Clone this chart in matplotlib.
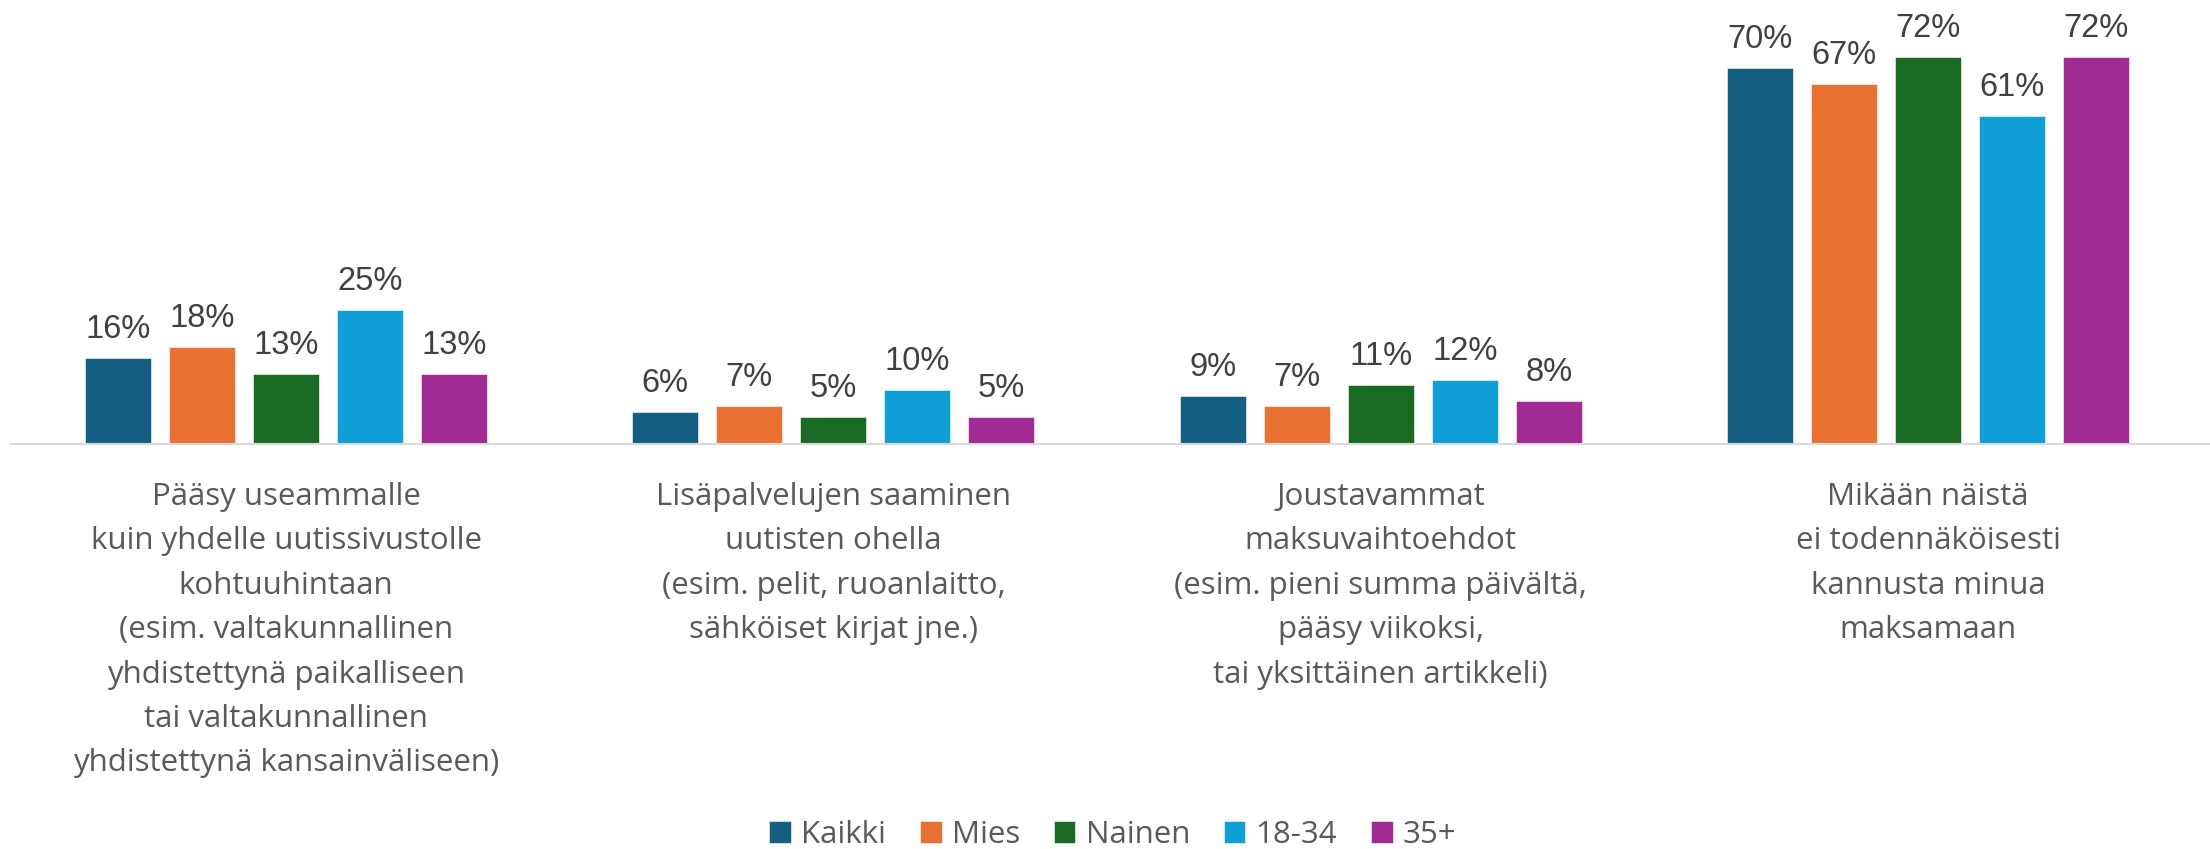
import matplotlib

matplotlib.use("Agg")
import matplotlib.pyplot as plt
import numpy as np
from matplotlib.transforms import blended_transform_factory

categories = [
    "Pääsy useammalle\nkuin yhdelle uutissivustolle\nkohtuuhintaan\n(esim. valtakunnallinen\n"
    "yhdistettynä paikalliseen\ntai valtakunnallinen\nyhdistettynä kansainväliseen)",
    "Lisäpalvelujen saaminen\nuutisten ohella\n(esim. pelit, ruoanlaitto,\nsähköiset kirjat jne.)",
    "Joustavammat\nmaksuvaihtoehdot\n(esim. pieni summa päivältä,\npääsy viikoksi,\ntai yksittäinen artikkeli)",
    "Mikään näistä\nei todennäköisesti\nkannusta minua\nmaksamaan",
]
series = ["Kaikki", "Mies", "Nainen", "18-34", "35+"]
kaikki = [16, 6, 9, 70]
mies = [18, 7, 7, 67]
nainen = [13, 5, 11, 72]
nuoret = [25, 10, 12, 61]
vanhat = [13, 5, 8, 72]
values = [kaikki, mies, nainen, nuoret, vanhat]
colors = ["#156082", "#E97132", "#196B24", "#0F9ED5", "#A02B93"]

W, H, DPI = 2210, 849, 100
LABEL_FONT = "Open Sans"

fig = plt.figure(figsize=(W / DPI, H / DPI), dpi=DPI)
base_px = 444
ax = fig.add_axes([11 / W, 1 - base_px / H, 1 - 11 / W, base_px / H])

x = np.arange(len(categories))
width = 0.1206
step = 0.1535
for i, (name, vals, c) in enumerate(zip(series, values, colors)):
    pos = x + (i - 2) * step
    bars = ax.bar(pos, vals, width, color=c, label=name, edgecolor="white", linewidth=0.4)
    for b, v in zip(bars, vals):
        ax.annotate(f"{v}%", (b.get_x() + b.get_width() / 2, v),
                    xytext=(0, 14.4), textcoords="offset points",
                    ha="center", va="baseline", fontsize=23.5,
                    family="Liberation Sans", color="#404040")

ax.set_xlim(-0.5025, 3.515)
ax.set_ylim(0, base_px / 5.37)
for s in ["top", "left", "right"]:
    ax.spines[s].set_visible(False)
ax.spines["bottom"].set_color("#D9D9D9")
ax.spines["bottom"].set_linewidth(1.5)
ax.set_xticks([])
ax.set_yticks([])

# category labels, one text per line so spacing stays even
trans = blended_transform_factory(ax.transData, fig.transFigure)
first_baseline = 505
line_step = 44.4
for xi, label in zip(x, categories):
    for j, line in enumerate(label.split("\n")):
        yb = 1 - (first_baseline + j * line_step) / H
        ax.text(xi, yb, line, transform=trans, ha="center", va="baseline",
                fontsize=22.5, family=LABEL_FONT, color="#595959", clip_on=False)

leg = fig.legend(loc="center", bbox_to_anchor=(1113 / W, 1 - 835 / H), ncol=5,
                 frameon=False, prop={"family": LABEL_FONT, "size": 22.5},
                 handlelength=0.69, handleheight=0.69, handletextpad=0.33,
                 columnspacing=1.08, borderaxespad=0, borderpad=0)
for t in leg.get_texts():
    t.set_color("#595959")

fig.savefig("out.png", dpi=DPI)
